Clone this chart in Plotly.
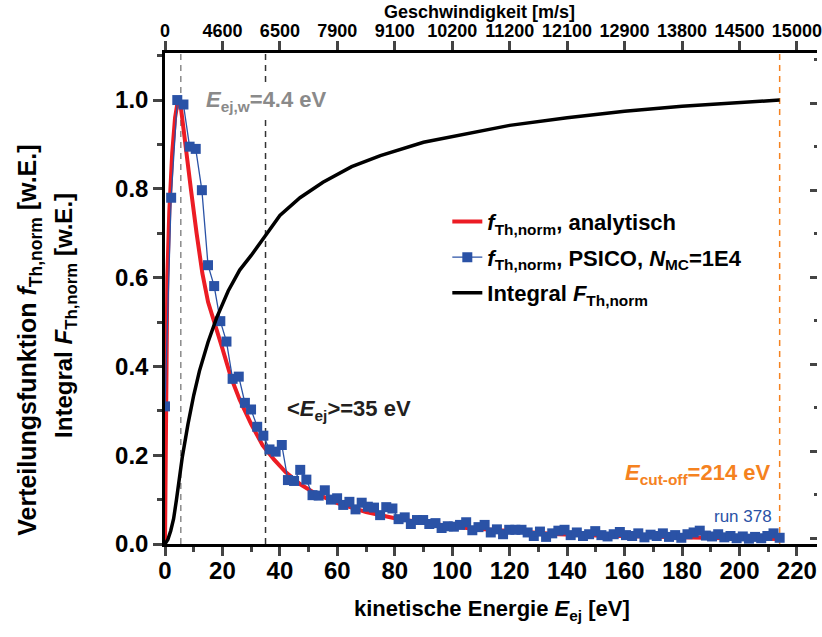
import plotly.graph_objects as go

# ---------------- data ----------------
# analytic distribution f_Th,norm
red_E = [0, 0.3, 0.8, 1.5, 2.5, 3.5, 4.5, 5.5, 7, 9, 11, 13, 15, 17, 20, 23, 26, 30, 34, 38,
         42, 47, 52, 60, 70, 80, 90, 105, 120, 137, 150, 165, 180, 200, 214]
red_f = [0, 0.30, 0.60, 0.75, 0.88, 0.96, 1.0, 0.985, 0.90, 0.80, 0.70, 0.61, 0.545, 0.50,
         0.44, 0.375, 0.325, 0.27, 0.222, 0.19, 0.162, 0.135, 0.115, 0.092, 0.072, 0.058,
         0.048, 0.036, 0.029, 0.022, 0.019, 0.0165, 0.0145, 0.0125, 0.0115]

# integral F_Th,norm
int_E = [0, 1, 2, 3, 4, 5, 6, 8, 10, 12, 15, 18, 22, 26, 30, 35, 40, 47, 55, 65, 75, 90,
         105, 120, 140, 160, 180, 200, 214]
int_F = [0, 0.01, 0.03, 0.057, 0.10, 0.15, 0.195, 0.27, 0.335, 0.39, 0.455, 0.51, 0.57,
         0.617, 0.65, 0.695, 0.74, 0.78, 0.815, 0.85, 0.875, 0.905, 0.925, 0.943, 0.96,
         0.975, 0.986, 0.995, 1.0]

# PSICO Monte-Carlo histogram (bin positions in eV)
mc_E = [0.00, 2.14, 4.28, 6.42, 8.56, 10.70, 12.84, 14.98, 17.12, 19.26,
        21.40, 23.54, 25.68, 27.82, 29.96, 32.10, 34.24, 36.38, 38.52, 40.66,
        42.80, 44.94, 47.08, 49.22, 51.36, 53.50, 55.64, 57.78, 59.92, 62.06,
        64.20, 66.34, 68.48, 70.62, 72.76, 74.90, 77.04, 79.18, 81.32, 83.46,
        85.60, 87.74, 89.88, 92.02, 94.16, 96.30, 98.44, 100.58, 102.72, 104.86,
        107.00, 109.14, 111.28, 113.42, 115.56, 117.70, 119.84, 121.98, 124.12, 126.26,
        128.40, 130.54, 132.68, 134.82, 136.96, 139.10, 141.24, 143.38, 145.52, 147.66,
        149.80, 151.94, 154.08, 156.22, 158.36, 160.50, 162.64, 164.78, 166.92, 169.06,
        171.20, 173.34, 175.48, 177.62, 179.76, 181.90, 184.04, 186.18, 188.32, 190.46,
        192.60, 194.74, 196.88, 199.02, 201.16, 203.30, 205.44, 207.58, 209.72, 211.86,
        214.00]
mc_f = [0.31, 0.78, 1.00, 0.99, 0.895, 0.89, 0.797, 0.628, 0.581, 0.502,
        0.456, 0.372, 0.377, 0.318, 0.303, 0.264, 0.244, 0.213, 0.208, 0.223,
        0.144, 0.142, 0.167, 0.145, 0.110, 0.109, 0.121, 0.100, 0.103, 0.088,
        0.095, 0.078, 0.093, 0.084, 0.082, 0.065, 0.083, 0.080, 0.056, 0.060,
        0.045, 0.054, 0.054, 0.045, 0.047, 0.036, 0.040, 0.039, 0.043, 0.049,
        0.031, 0.038, 0.043, 0.026, 0.033, 0.022, 0.032, 0.032, 0.032, 0.026,
        0.018, 0.028, 0.016, 0.024, 0.030, 0.032, 0.020, 0.026, 0.018, 0.022,
        0.029, 0.020, 0.017, 0.022, 0.027, 0.020, 0.018, 0.024, 0.015, 0.021,
        0.018, 0.024, 0.016, 0.020, 0.014, 0.022, 0.026, 0.030, 0.019, 0.017,
        0.022, 0.015, 0.018, 0.013, 0.017, 0.012, 0.016, 0.013, 0.018, 0.024,
        0.014]

# bottom/top axis ticks
energy_ticks = [0, 20, 40, 60, 80, 100, 120, 140, 160, 180, 200, 220]
speed_labels = ["0", "4600", "6500", "7900", "9100", "10200", "11200", "12100",
                "12900", "13800", "14500", "15000"]

# marker energies
E_w = 5.5        # position of dashed line for E_ej,w
E_mean = 35
E_cut = 214

# ---------------- styles ----------------
RED = "#EC1C24"
BLUE = "#2A52A6"
ORANGE = "#F5821F"
GRAY = "#8A8A8A"
FONT = "Liberation Sans, Arial, sans-serif"

fig = go.Figure()

fig.add_trace(go.Scatter(
    x=red_E, y=red_f, mode="lines", line=dict(color=RED, width=4), legendgroup="a",
    name="<i>f</i><sub>Th,norm</sub>, analytisch"))
fig.add_trace(go.Scatter(
    x=mc_E, y=mc_f, mode="lines+markers", line=dict(color=BLUE, width=1.3), legendgroup="b",
    marker=dict(symbol="square", size=10, color=BLUE),
    name="<i>f</i><sub>Th,norm</sub>, PSICO, <i>N</i><sub>MC</sub>=1E4"))
fig.add_trace(go.Scatter(
    x=int_E, y=int_F, mode="lines", line=dict(color="black", width=3.5), legendgroup="c",
    name="Integral <i>F</i><sub>Th,norm</sub>"))

XR = [0, 227]
YR = [0, 1.106]

# vertical dashed lines
for xv, col in [(E_w, GRAY), (E_mean, "#333333"), (E_cut, ORANGE)]:
    fig.add_shape(type="line", xref="x", yref="paper", x0=xv, x1=xv, y0=0, y1=1,
                  line=dict(color=col, width=1.5, dash="6px,5px"), layer="below")

tickfont = dict(family=FONT, size=24, color="black", weight="bold")

fig.update_layout(
    width=822, height=637,
    margin=dict(l=165, r=0, t=53, b=93),
    paper_bgcolor="white", plot_bgcolor="white",
    font=dict(family=FONT, size=18, color="black", weight="bold"),
    showlegend=True,
    legend=dict(x=0.433, y=0.699, xanchor="left", yanchor="top",
                bgcolor="rgba(0,0,0,0)", font=dict(family=FONT, size=22, weight="bold"),
                traceorder="grouped", tracegroupgap=4),
    xaxis=dict(range=XR, tickvals=energy_ticks, ticks="outside", ticklen=9, tickwidth=2.5,
               showline=True, linewidth=2.5, linecolor="black", mirror=False,
               showgrid=False, zeroline=False, tickfont=tickfont, tickangle=0,
               ticklabeloverflow="allow", ticklabelstandoff=-6,
               minor=dict(dtick=10, ticks="outside", ticklen=5, tickwidth=2.5, tick0=0)),
    xaxis2=dict(range=XR, overlaying="x", side="top", anchor="y", tickvals=energy_ticks,
                ticktext=speed_labels, ticks="outside", ticklen=9, tickwidth=2.5,
                showline=True, linewidth=2.5, linecolor="black", showgrid=False,
                zeroline=False, tickangle=0, ticklabeloverflow="allow", ticklabelstandoff=-3,
                tickfont=dict(family=FONT, size=18, color="black", weight="bold")),
    yaxis=dict(range=YR, dtick=0.2, tick0=0, tickformat=".1f", ticks="outside", ticklen=9,
               tickwidth=2.5, showline=True, linewidth=2.5, linecolor="black",
               showgrid=False, zeroline=False, tickfont=tickfont,
               minor=dict(dtick=0.1, tick0=0, ticks="outside", ticklen=5, tickwidth=2.5)),
    yaxis2=dict(range=[-0.013, 1.116], overlaying="y", side="right", anchor="x",
                dtick=0.2, tick0=0, ticks="inside", ticklen=7, tickwidth=3,
                showticklabels=False, showline=False, showgrid=False, zeroline=False,
                minor=dict(dtick=0.1, tick0=0, ticks="inside", ticklen=3, tickwidth=3)),
)

# a helper trace so the top / right axes are drawn
fig.add_trace(go.Scatter(x=[None], y=[None], xaxis="x2", yaxis="y2", showlegend=False,
                         hoverinfo="skip"))

ann = []
ann.append(dict(text="<i>E</i><sub>ej,w</sub>=4.4 eV", x=13.6, y=0.999, xref="x", yref="y",
                xanchor="left", yanchor="middle", showarrow=False, bgcolor="white",
                font=dict(family=FONT, size=22, color=GRAY, weight="bold")))
ann.append(dict(text="&lt;<i>E</i><sub>ej</sub>&gt;=35 eV", x=41.8, y=0.302, xref="x", yref="y",
                xanchor="left", yanchor="middle", showarrow=False,
                font=dict(family=FONT, size=22, color="#231F20", weight="bold")))
ann.append(dict(text="<i>E</i><sub>cut-off</sub>=214 eV", x=211.4, y=0.157, xref="x", yref="y",
                xanchor="right", yanchor="middle", showarrow=False,
                font=dict(family=FONT, size=22, color=ORANGE, weight="bold")))
ann.append(dict(text="run 378", x=212.0, y=0.061, xref="x", yref="y",
                xanchor="right", yanchor="middle", showarrow=False,
                font=dict(family=FONT, size=17, color=BLUE, weight="normal")))
# axis titles
ann.append(dict(text="kinetische Energie <i>E</i><sub>ej</sub> [eV]", x=0.502, y=-0.134,
                xref="paper", yref="paper", xanchor="center", yanchor="middle", showarrow=False,
                font=dict(family=FONT, size=22, color="black", weight="bold")))
ann.append(dict(text="Geschwindigkeit [m/s]", x=0.4825, y=1.0845,
                xref="paper", yref="paper", xanchor="center", yanchor="middle", showarrow=False,
                font=dict(family=FONT, size=18, color="black", weight="bold")))
ann.append(dict(text="Verteilungsfunktion <i>f</i><sub>Th,norm</sub> [w.E.]", x=-0.2085, y=0.414,
                xref="paper", yref="paper", xanchor="center", yanchor="middle", showarrow=False,
                textangle=-90, font=dict(family=FONT, size=25, color="black", weight="bold")))
ann.append(dict(text="Integral <i>F</i><sub>Th,norm</sub> [w.E.]", x=-0.152, y=0.4664,
                xref="paper", yref="paper", xanchor="center", yanchor="middle", showarrow=False,
                textangle=-90, font=dict(family=FONT, size=24, color="black", weight="bold")))
fig.update_layout(annotations=ann)

fig.write_html("out.html")
